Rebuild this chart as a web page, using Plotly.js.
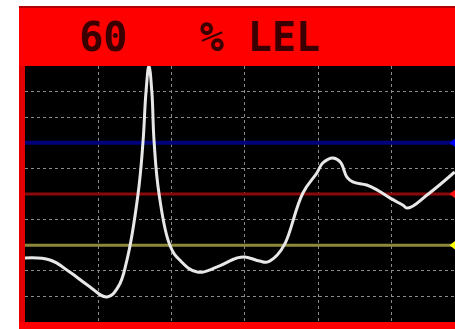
<!DOCTYPE html>
<html>
<head>
<meta charset="utf-8">
<script src="https://cdn.plot.ly/plotly-3.0.1.min.js"></script>
<style>html,body{margin:0;padding:0;background:#fff;}#chart{width:455px;height:329px;}</style>
</head>
<body>
<div id="chart"></div>
<script>
// Reading (time in grid divisions) and gas level (% LEL)
const timeX = [0, 0.34, 0.61, 0.85, 1.12, 1.27, 1.39, 1.54, 1.61, 1.65, 1.69, 1.73, 1.76, 1.83, 1.98, 2.11, 2.35, 2.62, 2.89, 3.00, 3.20, 3.30, 3.44, 3.55, 3.79, 3.98, 4.06, 4.20, 4.30, 4.39, 4.47, 4.66, 4.80, 4.98, 5.15, 5.22, 5.50, 5.86];
const lelValues = [25, 24.2, 19.5, 14.5, 9.8, 13.7, 24.2, 49.6, 70.7, 89.8, 100, 89.8, 70.7, 49.6, 29.7, 24.2, 19.5, 21.5, 25.0, 25.4, 23.8, 23.4, 26.2, 30.9, 50.4, 58.2, 62.1, 64.1, 62.5, 56.6, 54.7, 53.5, 51.6, 48.4, 45.7, 44.5, 50.0, 58.6];
// Alarm levels
const levelNames = ["High", "Mid", "Low"];
const levelValues = [70, 50, 30];
const levelColors = ["#00007a", "#8a0a0a", "#8c8a3a"];
const markerColors = ["#0000ff", "#ff1010", "#ffff00"];
const titleText = "60\u00A0\u00A0\u00A0% LEL";

const xMax = 5.864;
const traces = [];
levelValues.forEach((v, i) => {
  traces.push({
    x: [0, xMax], y: [v, v], mode: "lines", name: levelNames[i],
    line: {color: levelColors[i], width: i === 0 ? 4 : 3}, hoverinfo: "skip"
  });
  traces.push({
    x: [xMax], y: [v], mode: "markers", cliponaxis: false, showlegend: false,
    marker: {symbol: "triangle-left", size: 11, color: markerColors[i]}, hoverinfo: "skip"
  });
});
traces.push({
  x: timeX, y: lelValues, mode: "lines", name: "LEL",
  line: {color: "#e8e8e8", width: 3, shape: "spline", smoothing: 1.2}
});

const W = 430, H = 256;
function px2x(p) { return (p - 25) / W; }
function py2y(p) { return (322 - p) / H; }
const shapes = [
  {type: "rect", xref: "paper", yref: "paper", x0: px2x(19), x1: px2x(460), y0: py2y(66), y1: py2y(6), fillcolor: "#ff0000", line: {width: 0}},
  {type: "rect", xref: "paper", yref: "paper", x0: px2x(19), x1: px2x(460), y0: py2y(8), y1: py2y(6), fillcolor: "#b00000", line: {width: 0}},
  {type: "rect", xref: "paper", yref: "paper", x0: px2x(19), x1: px2x(25), y0: py2y(329), y1: py2y(66), fillcolor: "#e00000", line: {width: 0}},
  {type: "rect", xref: "paper", yref: "paper", x0: px2x(19), x1: px2x(460), y0: py2y(329), y1: py2y(322), fillcolor: "#ff0000", line: {width: 0}}
];

const layout = {
  width: 455, height: 329,
  margin: {l: 25, r: 0, t: 66, b: 7, pad: 0},
  paper_bgcolor: "#ffffff", plot_bgcolor: "#000000",
  showlegend: false,
  xaxis: {range: [0, xMax], dtick: 1, tick0: 0, showgrid: true, gridcolor: "#8a8a8a", griddash: "dot", gridwidth: 1,
          zeroline: false, showticklabels: false, ticks: "", showline: false, fixedrange: true},
  yaxis: {range: [0, 100], dtick: 10, tick0: 0, showgrid: true, gridcolor: "#8a8a8a", griddash: "dot", gridwidth: 1,
          zeroline: false, showticklabels: false, ticks: "", showline: false, fixedrange: true},
  shapes: shapes,
  annotations: [{
    xref: "paper", yref: "paper", x: px2x(77), y: py2y(37), xanchor: "left", yanchor: "middle",
    text: titleText, showarrow: false,
    font: {family: "DejaVu Sans Mono", size: 40, color: "#3a0000", weight: "bold"}
  }]
};
Plotly.newPlot("chart", traces, layout, {staticPlot: true, displayModeBar: false});
</script>
</body>
</html>
